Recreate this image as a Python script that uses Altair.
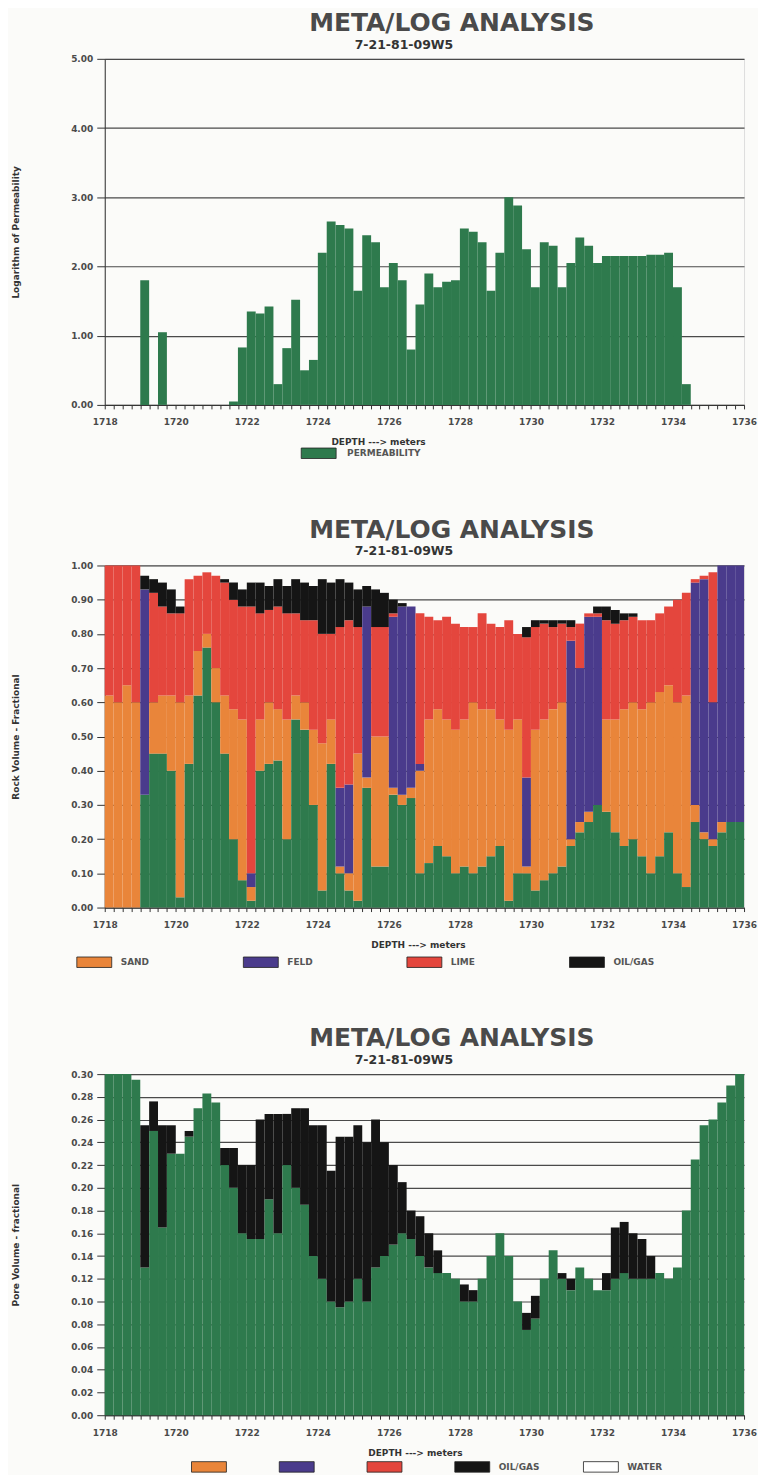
import altair as alt
import pandas as pd

TITLE = "META/LOG ANALYSIS"
SUBTITLE = "7-21-81-09W5"
X_TITLE = "DEPTH ---> meters"

# depth sampling (0.25 m intervals)
depth_start = [1718.0 + 0.25 * i for i in range(72)]
depth_ticks = [1718.0 + 0.25 * i for i in range(73)]

# ---- panel 1: log of permeability
perm_log = [0, 0, 0, 0, 1.80, 0, 1.05, 0, 0, 0, 0, 0, 0, 0,
            0.05, 0.83, 1.35, 1.32, 1.42, 0.30, 0.82, 1.52, 0.50, 0.65,
            2.20, 2.65, 2.60, 2.55, 1.65, 2.45, 2.35, 1.70, 2.05, 1.80,
            0.80, 1.45, 1.90, 1.70, 1.78, 1.80, 2.55, 2.50, 2.35, 1.65,
            2.20, 3.00, 2.88, 2.25, 1.70, 2.35, 2.30, 1.70, 2.05, 2.42,
            2.30, 2.05, 2.15, 2.15, 2.15, 2.15, 2.15, 2.17, 2.17, 2.20,
            1.70, 0.30, 0, 0, 0, 0, 0, 0]

# ---- panel 2: rock volume (cumulative tops of each component)
rock_pore_top = [0, 0, 0, 0, 0.33, 0.45, 0.45, 0.40, 0.03, 0.42, 0.62, 0.76, 0.60, 0.45,
                 0.20, 0.08, 0.02, 0.40, 0.42, 0.43, 0.20, 0.55, 0.52, 0.30, 0.05, 0.42,
                 0.10, 0.05, 0.02, 0.35, 0.12, 0.12, 0.33, 0.30, 0.32, 0.10, 0.13, 0.18,
                 0.15, 0.10, 0.12, 0.10, 0.12, 0.15, 0.18, 0.02, 0.10, 0.10, 0.05, 0.08,
                 0.10, 0.12, 0.18, 0.22, 0.25, 0.30, 0.28, 0.22, 0.18, 0.20, 0.15, 0.10,
                 0.15, 0.22, 0.10, 0.06, 0.25, 0.20, 0.18, 0.22, 0.25, 0.25]
rock_sand_top = [0.62, 0.60, 0.65, 0.60, 0.33, 0.60, 0.62, 0.62, 0.60, 0.62, 0.75, 0.80, 0.70, 0.62,
                 0.58, 0.55, 0.06, 0.55, 0.60, 0.58, 0.55, 0.62, 0.60, 0.52, 0.48, 0.55,
                 0.12, 0.10, 0.45, 0.38, 0.50, 0.50, 0.35, 0.33, 0.35, 0.40, 0.55, 0.58,
                 0.55, 0.52, 0.55, 0.60, 0.58, 0.58, 0.55, 0.52, 0.55, 0.12, 0.52, 0.55,
                 0.58, 0.60, 0.20, 0.25, 0.28, 0.30, 0.55, 0.55, 0.58, 0.60, 0.58, 0.60,
                 0.63, 0.65, 0.60, 0.62, 0.30, 0.22, 0.20, 0.25, 0.25, 0.25]
rock_feld_top = [0.62, 0.60, 0.65, 0.60, 0.93, 0.60, 0.62, 0.62, 0.60, 0.62, 0.75, 0.80, 0.70, 0.62,
                 0.58, 0.55, 0.10, 0.55, 0.60, 0.58, 0.55, 0.62, 0.60, 0.52, 0.48, 0.55,
                 0.35, 0.36, 0.45, 0.88, 0.50, 0.50, 0.85, 0.88, 0.88, 0.42, 0.55, 0.58,
                 0.55, 0.52, 0.55, 0.60, 0.58, 0.58, 0.55, 0.52, 0.55, 0.38, 0.52, 0.55,
                 0.58, 0.60, 0.78, 0.70, 0.85, 0.85, 0.55, 0.55, 0.58, 0.60, 0.58, 0.60,
                 0.63, 0.65, 0.60, 0.62, 0.95, 0.96, 0.60, 1.00, 1.00, 1.00]
rock_lime_top = [1.00, 1.00, 1.00, 1.00, 0.93, 0.92, 0.88, 0.86, 0.86, 0.96, 0.97, 0.98, 0.97, 0.95,
                 0.90, 0.88, 0.88, 0.86, 0.87, 0.88, 0.86, 0.86, 0.84, 0.84, 0.80, 0.80,
                 0.82, 0.84, 0.82, 0.88, 0.82, 0.82, 0.86, 0.88, 0.88, 0.86, 0.85, 0.84,
                 0.85, 0.83, 0.82, 0.82, 0.86, 0.83, 0.82, 0.84, 0.80, 0.79, 0.82, 0.83,
                 0.82, 0.83, 0.82, 0.83, 0.86, 0.86, 0.84, 0.83, 0.84, 0.85, 0.84, 0.84,
                 0.86, 0.88, 0.90, 0.92, 0.96, 0.97, 0.98, 1.00, 1.00, 1.00]
rock_total_top = [1.00, 1.00, 1.00, 1.00, 0.97, 0.96, 0.95, 0.93, 0.88, 0.96, 0.97, 0.98, 0.97, 0.96,
                  0.95, 0.93, 0.95, 0.95, 0.94, 0.96, 0.94, 0.96, 0.95, 0.94, 0.96, 0.95,
                  0.96, 0.95, 0.93, 0.94, 0.93, 0.92, 0.90, 0.89, 0.88, 0.86, 0.85, 0.84,
                  0.85, 0.83, 0.82, 0.82, 0.86, 0.83, 0.82, 0.84, 0.80, 0.82, 0.84, 0.84,
                  0.84, 0.84, 0.84, 0.83, 0.86, 0.88, 0.88, 0.87, 0.86, 0.86, 0.84, 0.84,
                  0.86, 0.88, 0.90, 0.92, 0.96, 0.97, 0.98, 1.00, 1.00, 1.00]

# ---- panel 3: pore volume (cumulative tops)
pore_water_top = [0.30, 0.30, 0.30, 0.295, 0.13, 0.25, 0.165, 0.23, 0.23, 0.245, 0.27, 0.283,
                  0.275, 0.22, 0.20, 0.16, 0.155, 0.155, 0.19, 0.16, 0.22, 0.20, 0.185, 0.14,
                  0.12, 0.10, 0.095, 0.10, 0.12, 0.10, 0.13, 0.14, 0.15, 0.16, 0.155, 0.14,
                  0.13, 0.125, 0.125, 0.12, 0.10, 0.10, 0.12, 0.14, 0.16, 0.14, 0.10, 0.075,
                  0.085, 0.12, 0.145, 0.12, 0.11, 0.13, 0.12, 0.11, 0.11, 0.12, 0.125, 0.12,
                  0.12, 0.12, 0.125, 0.12, 0.13, 0.18, 0.225, 0.255, 0.26, 0.275, 0.29, 0.30]
pore_total_top = [0.30, 0.30, 0.30, 0.295, 0.255, 0.276, 0.255, 0.255, 0.23, 0.25, 0.27, 0.283,
                  0.275, 0.235, 0.235, 0.22, 0.22, 0.26, 0.265, 0.265, 0.265, 0.27, 0.27, 0.255,
                  0.255, 0.215, 0.245, 0.245, 0.255, 0.24, 0.26, 0.24, 0.22, 0.205, 0.18, 0.175,
                  0.16, 0.145, 0.125, 0.12, 0.115, 0.11, 0.12, 0.14, 0.16, 0.14, 0.10, 0.09,
                  0.105, 0.12, 0.145, 0.125, 0.12, 0.13, 0.12, 0.11, 0.125, 0.165, 0.17, 0.16,
                  0.155, 0.14, 0.125, 0.12, 0.13, 0.18, 0.225, 0.255, 0.26, 0.275, 0.29, 0.30]

rock_series = ["PORE", "SAND", "FELD", "LIME", "OIL/GAS"]
legend2_items = ["SAND", "FELD", "LIME", "OIL/GAS"]
legend3_items = ["SAND", "FELD", "LIME", "OIL/GAS", "WATER"]

GREEN = "#2e7a4d"
ORANGE = "#e9853a"
PURPLE = "#4a3b8c"
RED = "#e4463d"
BLACK = "#151515"
WHITE = "#ffffff"

W = 641
FONT = "DejaVu Sans"
SWATCH = "M-2,-0.6H2V0.6H-2Z"

axis_style = dict(labelFont=FONT, labelFontSize=9, labelFontWeight="bold", labelColor="#4a4a4a",
                  titleFont=FONT, titleFontSize=9, titleFontWeight="bold", titleColor="#333333",
                  domainColor="#333333", tickColor="#333333", labelFlush=False)

legend_style = dict(orient="none", direction="horizontal", title=None, symbolType=SWATCH,
                    symbolSize=306.25, symbolStrokeColor="#222222", symbolStrokeWidth=0.8,
                    labelFont=FONT, labelFontSize=9, labelFontWeight="bold", labelColor="#555555",
                    symbolOpacity=1)

xscale = alt.Scale(domain=[1718, 1736], nice=False, zero=False)


def x_enc(title_x):
    return alt.X("d0:Q", scale=xscale,
                 axis=alt.Axis(values=depth_ticks,
                               labelExpr="datum.value % 2 === 0 ? format(datum.value, 'd') : ''",
                               labelOverlap=False, tickSize=4, grid=False, labelPadding=9,
                               title=X_TITLE, titleX=title_x, titlePadding=11, **axis_style))


def y_axis(title, values):
    return alt.Axis(values=values, format=".2f", title=title, tickSize=8, labelPadding=4,
                    titlePadding=50, grid=True, gridColor="#4a4a4a", gridWidth=1.2, **axis_style)


def heading_layers():
    title = alt.Chart(pd.DataFrame({"t": [TITLE]})).mark_text(
        font=FONT, fontSize=25, fontWeight="bold", color="#4a4a4a", baseline="middle"
    ).encode(text="t:N", x=alt.value(348), y=alt.value(-36))
    sub = alt.Chart(pd.DataFrame({"t": [SUBTITLE]})).mark_text(
        font=FONT, fontSize=12.5, fontWeight="bold", color="#333333", baseline="middle"
    ).encode(text="t:N", x=alt.value(300), y=alt.value(-14))
    return [title, sub]


# ---------- panel 1
p1 = pd.DataFrame({"d0": depth_start, "d1": [d + 0.25 for d in depth_start],
                   "v0": 0.0, "v1": perm_log, "series": "PERMEABILITY"})
p1 = p1[p1.v1 > 0]
bars1 = alt.Chart(p1).mark_rect().encode(
    x=x_enc(274), x2="d1:Q",
    y=alt.Y("v1:Q", scale=alt.Scale(domain=[0, 5], nice=False),
            axis=y_axis("Logarithm of Permeability", [0, 1, 2, 3, 4, 5])),
    y2="v0:Q",
    color=alt.Color("series:N", scale=alt.Scale(domain=["PERMEABILITY"], range=[GREEN]),
                    legend=alt.Legend(legendX=205, legendY=386, labelOffset=19, **legend_style)),
)
c1 = alt.layer(bars1, *heading_layers()).properties(width=W, height=347)

# ---------- panel 2
rows = []
tops = [rock_pore_top, rock_sand_top, rock_feld_top, rock_lime_top, rock_total_top]
for i, d in enumerate(depth_start):
    prev = 0.0
    for s, arr in zip(rock_series, tops):
        if arr[i] > prev:
            rows.append({"d0": d, "d1": d + 0.25, "v0": prev, "v1": arr[i], "series": s})
        prev = max(prev, arr[i])
p2 = pd.DataFrame(rows)
bars2 = alt.Chart(p2).mark_rect().encode(
    x=x_enc(314), x2="d1:Q",
    y=alt.Y("v1:Q", scale=alt.Scale(domain=[0, 1], nice=False),
            axis=y_axis("Rock Volume - Fractional", [round(0.1 * i, 1) for i in range(11)])),
    y2="v0:Q",
    color=alt.Color("series:N",
                    scale=alt.Scale(domain=rock_series, range=[GREEN, ORANGE, PURPLE, RED, BLACK]),
                    legend=alt.Legend(values=legend2_items, legendX=-20, legendY=388, columns=4,
                                      columnPadding=92, labelOffset=17, **legend_style)),
)
c2 = alt.layer(bars2, *heading_layers()).properties(width=W, height=343)

# ---------- panel 3
rows = []
for i, d in enumerate(depth_start):
    rows.append({"d0": d, "d1": d + 0.25, "v0": 0.0, "v1": pore_water_top[i], "series": "WATER"})
    if pore_total_top[i] > pore_water_top[i]:
        rows.append({"d0": d, "d1": d + 0.25, "v0": pore_water_top[i], "v1": pore_total_top[i],
                     "series": "OIL/GAS"})
p3 = pd.DataFrame(rows)
bars3 = alt.Chart(p3).mark_rect().encode(
    x=x_enc(311), x2="d1:Q",
    y=alt.Y("v1:Q", scale=alt.Scale(domain=[0, 0.30], nice=False),
            axis=y_axis("Pore Volume - fractional", [round(0.02 * i, 2) for i in range(16)])),
    y2="v0:Q",
    color=alt.Color("series:N", scale=alt.Scale(domain=["WATER", "OIL/GAS"], range=[GREEN, BLACK]),
                    legend=None),
)
leg3 = alt.Chart(pd.DataFrame({"item": legend3_items})).mark_rect().encode(
    x=alt.value(0), x2=alt.value(0), y=alt.value(0), y2=alt.value(0),
    fill=alt.Fill("item:N",
                  scale=alt.Scale(domain=legend3_items, range=[ORANGE, PURPLE, RED, BLACK, WHITE]),
                  legend=alt.Legend(legendX=95, legendY=384, columns=5, columnPadding=42,
                                    labelOffset=17,
                                    labelExpr="datum.label == 'OIL/GAS' || datum.label == 'WATER' ? datum.label : ''",
                                    **legend_style)),
)
c3 = alt.layer(bars3, leg3, *heading_layers()).properties(width=W, height=342)

chart = alt.vconcat(c1, c2, c3, spacing=55).resolve_scale(
    color="independent", fill="independent", x="independent", y="independent"
).properties(padding={"left": 3, "right": 0, "top": 0, "bottom": 0}
).configure_view(stroke="#333333", strokeWidth=1.2).configure(background="#fbfbf9")

chart.save("out.html", embed_options={"renderer": "svg", "actions": False})
